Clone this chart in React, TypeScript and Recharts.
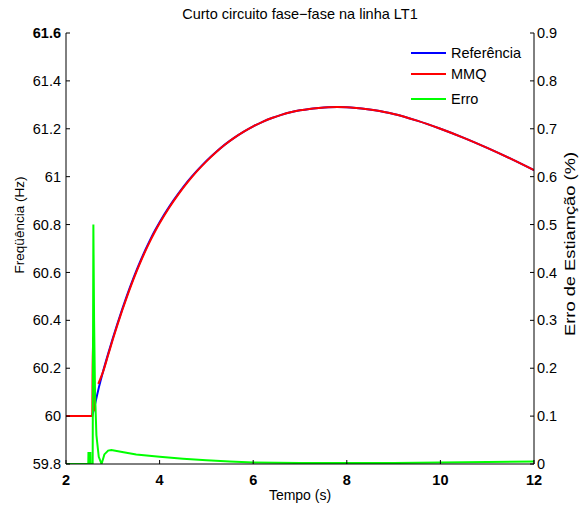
import React from 'react';
import { LineChart, Line, XAxis, YAxis, Legend } from 'recharts';

// Time axis and series
const refTime = [2.56, 2.6, 2.65, 2.7, 2.8, 2.9, 3.0, 3.1, 3.2, 3.3, 3.4, 3.5, 3.6, 3.7, 3.8, 3.9, 4.0, 4.2, 4.4, 4.6, 4.8, 5.0, 5.2, 5.4, 5.6, 5.8, 6.0, 6.2, 6.4, 6.6, 6.8, 7.0, 7.2, 7.4, 7.6, 7.8, 8.0, 8.2, 8.4, 8.6, 8.8, 9.0, 9.5, 10.0, 10.5, 11.0, 11.5, 12.0];
const refFreq = [60.0, 60.032, 60.076, 60.118, 60.192, 60.26, 60.325, 60.387, 60.446, 60.502, 60.555, 60.605, 60.652, 60.696, 60.737, 60.775, 60.81, 60.873, 60.929, 60.98, 61.025, 61.066, 61.102, 61.135, 61.163, 61.188, 61.21, 61.229, 61.245, 61.258, 61.269, 61.277, 61.283, 61.287, 61.29, 61.291, 61.29, 61.287, 61.283, 61.277, 61.27, 61.262, 61.234, 61.2, 61.162, 61.12, 61.075, 61.027];

const mmqTime = [2.0, 2.55, 2.56, 2.575, 2.6, 2.65, 2.69, 2.8, 2.9, 3.0, 3.1, 3.2, 3.3, 3.4, 3.5, 3.6, 3.7, 3.8, 3.9, 4.0, 4.2, 4.4, 4.6, 4.8, 5.0, 5.2, 5.4, 5.6, 5.8, 6.0, 6.2, 6.4, 6.6, 6.8, 7.0, 7.2, 7.4, 7.6, 7.8, 8.0, 8.2, 8.4, 8.6, 8.8, 9.0, 9.5, 10.0, 10.5, 11.0, 11.5, 12.0];
const mmqFreq: (number | null)[] = [60.0, 60.0, 60.0, 60.33, 60.02, null, 60.135, 60.19, 60.255, 60.32, 60.382, 60.441, 60.497, 60.55, 60.6, 60.647, 60.691, 60.732, 60.77, 60.805, 60.869, 60.926, 60.977, 61.023, 61.064, 61.101, 61.134, 61.163, 61.188, 61.21, 61.229, 61.245, 61.258, 61.269, 61.277, 61.283, 61.287, 61.29, 61.291, 61.29, 61.287, 61.283, 61.277, 61.27, 61.262, 61.234, 61.2, 61.162, 61.12, 61.075, 61.027];

const erroTime = [2.0, 2.476, 2.48, 2.484, 2.516, 2.52, 2.524, 2.57, 2.585, 2.6, 2.62, 2.65, 2.7, 2.76, 2.82, 2.9, 2.97, 3.2, 3.5, 4.0, 4.5, 5.0, 5.5, 6.0, 7.0, 8.0, 9.0, 10.0, 11.0, 12.0];
const erroVal = [0, 0, 0.025, 0, 0, 0.025, 0, 0, 0.5, 0.3, 0.15, 0.06, 0.015, 0, 0.02, 0.028, 0.029, 0.025, 0.02, 0.015, 0.011, 0.008, 0.005, 0.003, 0.002, 0.002, 0.002, 0.003, 0.004, 0.005];

const xTicks = [2, 4, 6, 8, 10, 12];
const leftTicks = [59.8, 60, 60.2, 60.4, 60.6, 60.8, 61, 61.2, 61.4, 61.6];
const rightTicks = [0, 0.1, 0.2, 0.3, 0.4, 0.5, 0.6, 0.7, 0.8, 0.9];

const seriesNames = ['Referência', 'MMQ', 'Erro'];
const seriesColors = ['#0000ff', '#ff0000', '#00ff00'];

const refData = refTime.map((t, i) => ({ t, ref: refFreq[i] }));
const mmqData = mmqTime.map((t, i) => ({ t, mmq: mmqFreq[i] }));
const erroData = erroTime.map((t, i) => ({ t, erro: erroVal[i] }));

const FONT = '"Liberation Sans", Arial, Helvetica, sans-serif';
const FS = 14.5;

const LeftTick = (props: any) => {
  const { x, y, payload } = props;
  const v = payload.value;
  return (
    <text x={x} y={y} dy="0.355em" textAnchor="end" fontFamily={FONT} fontSize={FS} fill="#000" fontWeight={v === 61.6 ? 'bold' : 'normal'}>
      {String(v)}
    </text>
  );
};

const RightTick = (props: any) => {
  const { x, y, payload } = props;
  return (
    <text x={x} y={y} dy="0.355em" textAnchor="start" fontFamily={FONT} fontSize={FS} fill="#000">
      {String(payload.value)}
    </text>
  );
};

const BottomTick = (props: any) => {
  const { x, y, payload } = props;
  return (
    <text x={x} y={y} dy="0.71em" textAnchor="middle" fontFamily={FONT} fontSize={FS} fill="#000" fontWeight="bold">
      {String(payload.value)}
    </text>
  );
};

const NoTick = () => <g />;

const legendRowsY = [0, 21, 46];

const LegendContent = () => (
  <div style={{ position: 'relative', width: 170, height: 70 }}>
    {seriesNames.map((name, i) => (
      <div key={name} style={{ position: 'absolute', left: 0, top: legendRowsY[i], height: 20, display: 'flex', alignItems: 'center' }}>
        <svg width={40} height={20} style={{ display: 'block' }}>
          <line x1={3} y1={10} x2={38} y2={10} stroke={seriesColors[i]} strokeWidth={2} />
        </svg>
        <span style={{ fontFamily: FONT, fontSize: FS, color: '#000', marginLeft: 3, whiteSpace: 'nowrap' }}>{name}</span>
      </div>
    ))}
  </div>
);

export default function App() {
  return (
    <div style={{ position: 'absolute', left: 0, top: 0, width: 579, height: 513, background: '#fff' }}>
      <LineChart width={579} height={513} margin={{ top: 33, right: 0, bottom: 0, left: 0 }}>
        <XAxis
          xAxisId="bottom"
          dataKey="t"
          type="number"
          domain={[2, 12]}
          ticks={xTicks}
          allowDataOverflow
          height={49}
          tickSize={-4}
          tickMargin={15}
          axisLine={{ stroke: '#000', strokeWidth: 1 }}
          tickLine={{ stroke: '#000' }}
          tick={<BottomTick />}
          interval={0}
        />
        <XAxis
          xAxisId="top"
          orientation="top"
          dataKey="t"
          type="number"
          domain={[2, 12]}
          ticks={xTicks}
          allowDataOverflow
          height={0}
          tickSize={-4}
          axisLine={{ stroke: '#000', strokeWidth: 1 }}
          tickLine={{ stroke: '#000' }}
          tick={<NoTick />}
          interval={0}
        />
        <YAxis
          yAxisId="left"
          type="number"
          domain={[59.8, 61.6]}
          ticks={leftTicks}
          allowDataOverflow
          width={66}
          tickSize={-4}
          tickMargin={9}
          axisLine={{ stroke: '#000', strokeWidth: 1 }}
          tickLine={{ stroke: '#000' }}
          tick={<LeftTick />}
          interval={0}
        />
        <YAxis
          yAxisId="right"
          orientation="right"
          type="number"
          domain={[0, 0.9]}
          ticks={rightTicks}
          allowDataOverflow
          width={45}
          tickSize={-4}
          tickMargin={7}
          axisLine={{ stroke: '#000', strokeWidth: 1 }}
          tickLine={{ stroke: '#000' }}
          tick={<RightTick />}
          interval={0}
        />
        <Legend
          layout="vertical"
          align="center"
          verticalAlign="middle"
          content={<LegendContent />}
          wrapperStyle={{ position: 'absolute', left: 408, top: 43, width: 170, height: 70 }}
        />
        <Line data={refData} xAxisId="bottom" yAxisId="left" dataKey="ref" name={seriesNames[0]} stroke={seriesColors[0]} strokeWidth={2} dot={false} isAnimationActive={false} type="monotone" />
        <Line data={mmqData} xAxisId="bottom" yAxisId="left" dataKey="mmq" name={seriesNames[1]} stroke={seriesColors[1]} strokeWidth={2} dot={false} isAnimationActive={false} type="monotone" connectNulls={false} />
        <Line data={erroData} xAxisId="bottom" yAxisId="right" dataKey="erro" name={seriesNames[2]} stroke={seriesColors[2]} strokeWidth={2} dot={false} isAnimationActive={false} type="linear" />
      </LineChart>
      <svg width={579} height={513} style={{ position: 'absolute', left: 0, top: 0, pointerEvents: 'none' }}>
        <text x={300} y={19} textAnchor="middle" fontFamily={FONT} fontSize={FS} fill="#000">Curto circuito fase−fase na linha LT1</text>
        <text x={300} y={500} textAnchor="middle" fontFamily={FONT} fontSize={14} fill="#000">Tempo (s)</text>
        <text x={0} y={0} transform="translate(24,225) rotate(-90)" textAnchor="middle" fontFamily={FONT} fontSize={13.5} fill="#000">Freqüência (Hz)</text>
        <text x={0} y={0} transform="translate(575,244) rotate(-90)" textAnchor="middle" fontFamily={FONT} fontSize={15.5} textLength={184} lengthAdjust="spacingAndGlyphs" fill="#000">Erro de Estiamção (%)</text>
      </svg>
    </div>
  );
}
